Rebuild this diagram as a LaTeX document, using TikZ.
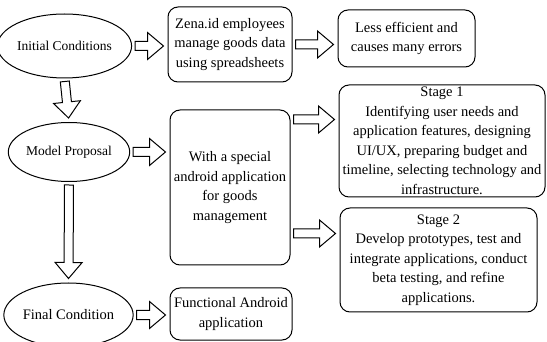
\documentclass[tikz,border=0pt]{standalone}
\usepackage{fontspec}
\setmainfont{Liberation Serif}
\usetikzlibrary{calc, shapes.geometric}

\begin{document}
\begin{tikzpicture}[x=1pt, y=1pt,
    oval/.style={draw, ellipse, line width=1pt, inner sep=0pt, font=\fontsize{13.5}{16}\selectfont},
    card/.style={draw, line width=1pt, rounded corners=10pt, align=center, inner sep=1pt, font=\fontsize{14.5}{19.5}\selectfont},
    fat/.style={draw, line width=1pt, line join=miter, to path={
        let \p1=($(\tikztostart)!3pt!(\tikztotarget)$),
            \p2=($(\tikztotarget)!4pt!(\tikztostart)$),
            \p3=($(\p2)!16pt!(\p1)$) in
        ($(\p1)!4.5pt!90:(\p2)$) -- ($(\p3)!4.5pt!-90:(\p1)$)
        -- ($(\p3)!13.5pt!-90:(\p1)$) -- (\p2)
        -- ($(\p3)!13.5pt!90:(\p1)$) -- ($(\p3)!4.5pt!90:(\p1)$)
        -- ($(\p1)!4.5pt!-90:(\p2)$) -- cycle}}]
    \useasboundingbox (0,0) rectangle (547,-342);

    % Left column
    \node[oval, minimum width=119, minimum height=64] (ini) at (64.5,-46) {Initial Conditions};
    \node[oval, minimum width=106, minimum height=59] (model) at (69,-152) {Model Proposal};
    \node[oval, minimum width=107, minimum height=64, font=\fontsize{14.5}{17}\selectfont] (final) at (68.5,-315) {Final Condition};

    % Middle column
    \node[card, minimum width=124, minimum height=75] (zena) at (230,-44.5)
        {Zena.id employees\\manage goods data\\using spreadsheets};
    \node[card, minimum width=120, minimum height=155] (big) at (230,-187.5)
        {With a special\\android application\\for goods\\management};
    \node[card, minimum width=122, minimum height=52] (fbox) at (231,-314)
        {Functional Android\\application};

    % Right column
    \node[card, minimum width=137, minimum height=57] (less) at (406.5,-38.5)
        {Less efficient and\\causes many errors};
    \node[card, minimum width=206, minimum height=112] (s1) at (442,-141)
        {Stage 1\\Identifying user needs and\\application features, designing\\UI/UX, preparing budget and\\timeline, selecting technology and\\infrastructure.};
    \node[card, minimum width=197, minimum height=104] (s2) at (438.5,-260)
        {Stage 2\\Develop prototypes, test and\\integrate applications, conduct\\beta testing, and refine\\applications.};

    % Block arrows
    \coordinate (b1) at ([yshift=-10pt]big.north east);
    \coordinate (b2) at ([yshift=32pt]big.south east);
    \draw[fat] (ini.east) to (ini.east -| zena.west);
    \draw[fat] (zena.east) to (zena.east -| less.west);
    \draw[fat] (model.east) to (model.east -| big.west);
    \draw[fat] (final.east) to (final.east -| fbox.west);
    \draw[fat] (b1) to (b1 -| s1.west);
    \draw[fat] (b2) to (b2 -| s2.west);
    \draw[fat] (ini.south) to (model.north);
    \draw[fat] (model.south) to (final.north);
\end{tikzpicture}
\end{document}
